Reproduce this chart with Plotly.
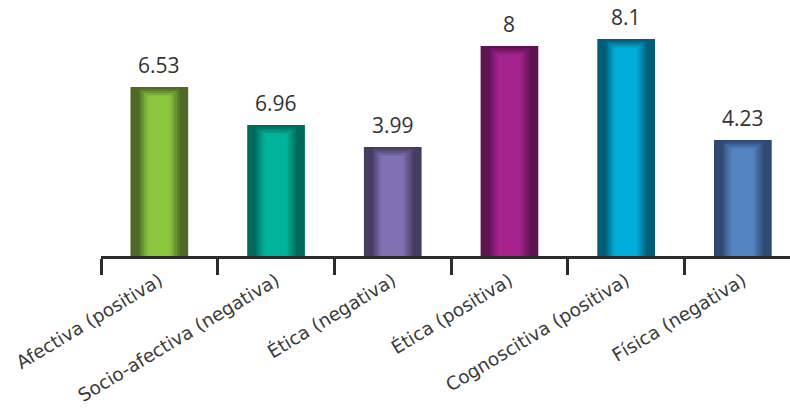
import plotly.graph_objects as go

# ---- data ----
categories = ["Afectiva (positiva)", "Socio-afectiva (negativa)", "Ética (negativa)",
              "Ética (positiva)", "Cognoscitiva (positiva)", "Física (negativa)"]
bar_heights = [6.44, 4.99, 4.15, 8.00, 8.27, 4.42]   # heights as drawn in the picture
value_labels = ["6.53", "6.96", "3.99", "8", "8.1", "4.23"]  # printed labels
dark_colors = ["#4d6b27", "#00695a", "#463d63", "#5d1451", "#005d78", "#2e4a70"]
light_colors = ["#8cc63f", "#00b49c", "#8070b4", "#a6228e", "#00aedc", "#5584c3"]

# ---- style ----
PX_PER_CAT = 116.7
PX_PER_UNIT = 26.25
BAR_PX = 57.7


def hex2rgb(h):
    h = h.lstrip("#")
    return tuple(int(h[i:i + 2], 16) for i in (0, 2, 4))


def mix(c1, c2, t):
    a, b = hex2rgb(c1), hex2rgb(c2)
    return "rgb(%d,%d,%d)" % tuple(round(a[i] + (b[i] - a[i]) * t) for i in range(3))


# layers: (left px, right px within bar, top inset px, mix fraction)
layers = [
    (0, BAR_PX, 0, 0.0),
    (9, 49, 2, 0.2),
    (11, 46.5, 4, 0.45),
    (13.5, 43.5, 6, 0.7),
    (16, 41, 8, 0.9),
    (18, 39, 9, 1.0),
]

fig = go.Figure()
for left, right, top_in, t in layers:
    w = (right - left) / PX_PER_CAT
    off = (left - BAR_PX / 2) / PX_PER_CAT
    ys = [h - top_in / PX_PER_UNIT for h in bar_heights]
    fig.add_trace(go.Bar(
        x=categories, y=ys,
        width=[w] * len(categories), offset=[off] * len(categories),
        marker=dict(color=[mix(d, l, t) for d, l in zip(dark_colors, light_colors)],
                    line=dict(width=0)),
        hoverinfo="skip", showlegend=False,
    ))

for cat, h, lab in zip(categories, bar_heights, value_labels):
    fig.add_annotation(x=cat, y=h, text=lab, showarrow=False,
                       yanchor="middle", yshift=22,
                       font=dict(family="Open Sans", size=21, color="#333333"))

fig.update_layout(
    width=790, height=410,
    margin=dict(l=101, r=0, t=0, b=154, autoexpand=False),
    barmode="overlay",
    plot_bgcolor="white", paper_bgcolor="white",
    xaxis=dict(
        type="category", range=[-0.5, 5.404], automargin=False,
        showline=True, linecolor="#2b2b2b", linewidth=3,
        ticks="outside", tickson="boundaries", ticklen=16, tickwidth=2.5,
        tickcolor="#2b2b2b", tickangle=-31, ticklabelstandoff=4,
        tickfont=dict(family="DejaVu Sans", size=18.4, color="#3a3a3a"),
        showgrid=False, zeroline=False, fixedrange=True,
    ),
    yaxis=dict(range=[0, 256 / PX_PER_UNIT], visible=False, showgrid=False,
               zeroline=False, fixedrange=True),
)

fig.write_html("out.html")
